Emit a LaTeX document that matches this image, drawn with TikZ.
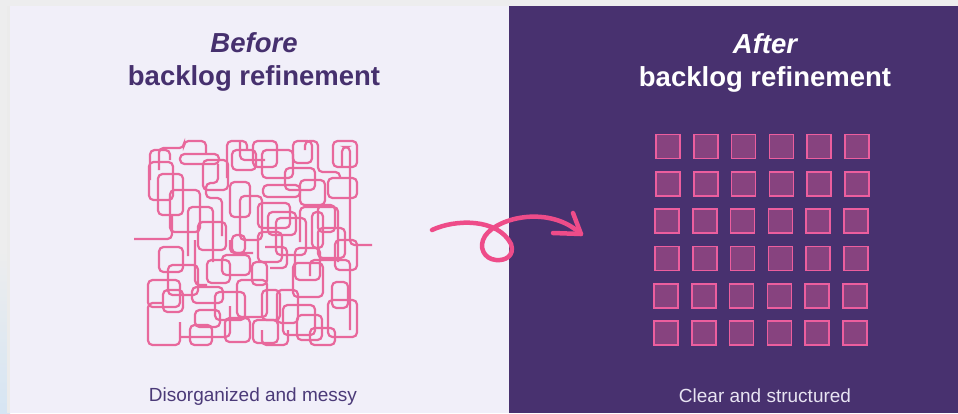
\documentclass[tikz,border=0pt]{standalone}
\usepackage{fontspec}
\setmainfont{Liberation Sans}
\definecolor{bggray}{HTML}{EDEDEE}
\definecolor{shadowblue}{HTML}{D6E5F3}
\definecolor{lav}{HTML}{F1EFF9}
\definecolor{deep}{HTML}{48316F}
\definecolor{titlec}{HTML}{46306E}
\definecolor{subc}{HTML}{4B3A78}
\definecolor{tanglec}{HTML}{E8689C}
\definecolor{sqfill}{HTML}{87437F}
\definecolor{sqdraw}{HTML}{EC5E9E}
\definecolor{arrowc}{HTML}{EE4C89}
\definecolor{lighttext}{HTML}{E8E4F2}
\begin{document}
\begin{tikzpicture}[x=1pt,y=-1pt,
  tangle/.style={draw=tanglec,line width=2.2pt,rounded corners=4.5pt},
  sq/.style={draw=sqdraw,fill=sqfill,line width=1.6pt,minimum size=24pt,inner sep=0pt,outer sep=0pt},
  titletext/.style={anchor=base,font=\fontsize{27.5}{32}\selectfont\bfseries},
  subtext/.style={anchor=base,font=\fontsize{19}{22}\selectfont},
  curly/.style={draw=arrowc,line width=4.5pt,line cap=round,line join=round}]
\useasboundingbox (0,0) rectangle (958,413);
% background and panels
\fill[bggray] (0,0) rectangle (958,413);
\shade[top color=bggray,bottom color=shadowblue] (0,250) rectangle (10,413);
\fill[black!8] (7,6) rectangle (10,413);
\fill[lav] (10,6) rectangle (509,413);
\fill[deep] (509,6) rectangle (958,413);
% titles
\node[titletext,text=titlec] (before) at (254,52.5) {\itshape Before};
\node[titletext,text=titlec] (beforeb) at (254,85) {backlog refinement};
\node[titletext,text=white] (after) at (765,53) {\itshape After};
\node[titletext,text=white] (afterb) at (765,86) {backlog refinement};
\node[subtext,text=subc] (messy) at (253,401.5) {Disorganized and messy};
\node[subtext,text=lighttext] (clear) at (765,402.5) {Clear and structured};
% tangle
\foreach \a/\b/\c/\d in {180/154/219/164, 232/150/256/170, 253/141/277/167,
  262/150/293/178, 293/141/312/163, 333/141/357/167, 149/162/173/200,
  158/174/183/215, 230/182/250/217, 263/185/300/197, 258/203/290/228,
  268/212/296/235, 328/178/357/198, 312/212/323/248, 159/247/183/272,
  232/235/245/253, 258/232/282/262, 295/248/320/280, 148/280/180/307,
  163/290/183/312, 192/287/223/303, 207/260/230/283, 195/310/220/327,
  237/280/267/317, 252/262/267/285, 262/290/280/320, 277/290/298/323,
  253/320/278/343, 293/263/323/297, 332/282/348/308, 328/300/357/337,
  310/328/335/345, 318/205/335/232,
  170/190/200/232, 198/222/226/250, 240/196/262/240, 285/168/315/190,
  276/218/306/255, 318/228/345/258, 168/265/198/295, 215/292/245/320,
  283/305/315/335, 297/315/322/340, 335/240/357/270, 203/160/228/190,
  222/255/250/275, 190/325/212/345, 225/318/250/342, 300/180/325/205}
  \draw[tangle] (\a,\b) rectangle (\c,\d);
\draw[tangle] (159,170) -- (159,148) -- (184,148) -- (184,141) -- (206,141) -- (206,154);
\draw[tangle] (218,164) -- (218,183) -- (206,183) -- (206,198) -- (222,198) -- (222,236);
\draw[tangle] (227,178) -- (227,141) -- (247,141) -- (247,150);
\draw[tangle] (305,150) -- (305,141) -- (318,141) -- (318,172) -- (340,172) -- (340,178);
\draw[tangle] (342,167) -- (342,147) -- (350,147) -- (350,245) -- (372,245);
\draw[tangle] (134,239) -- (172,239) -- (172,215);
\draw[tangle] (188,256) -- (188,207) -- (213,207) -- (213,262);
\draw[tangle] (300,242) -- (300,207) -- (338,207) -- (338,262);
\draw[tangle] (163,303) -- (148,303) -- (148,345) -- (180,345) -- (180,322);
\draw[tangle] (180,337) -- (230,337) -- (230,306);
\draw[tangle] (230,240) -- (230,253) -- (253,253);
\draw[tangle] (265,247) -- (287,247) -- (287,268) -- (270,268);
\draw[tangle] (195,240) -- (195,285) -- (207,285);
\draw[tangle] (310,276) -- (310,260) -- (350,260) -- (350,330);
\draw[tangle] (262,330) -- (262,345) -- (288,345) -- (288,330);
\draw[tangle] (150,180) -- (150,150) -- (170,150) -- (170,160);
\draw[tangle] (240,141) -- (240,160) -- (265,160);
% grid of squares
\foreach \i in {0,...,5}{
  \foreach \j in {0,...,5}{
    \pgfmathsetmacro{\cx}{668.25+37.7*\i-int(\j/2)}
    \pgfmathsetmacro{\cy}{146.5+37.35*\j}
    \node[sq] (s\i\j) at (\cx,\cy) {};
  }
}
% curly arrow
\coordinate (astart) at (432,230);
\coordinate (atip) at (581,234);
\coordinate (barbA) at (573,213);
\coordinate (barbB) at (553,233);
\draw[curly] (astart) .. controls (455,219) and (498,218) .. (511,244)
  .. controls (515,256) and (505,261) .. (496,260)
  .. controls (484,259) and (478,247) .. (485,236)
  .. controls (498,217) and (550,205) .. (atip);
\draw[curly] (barbA) -- (atip) -- (barbB);
\end{tikzpicture}
\end{document}
